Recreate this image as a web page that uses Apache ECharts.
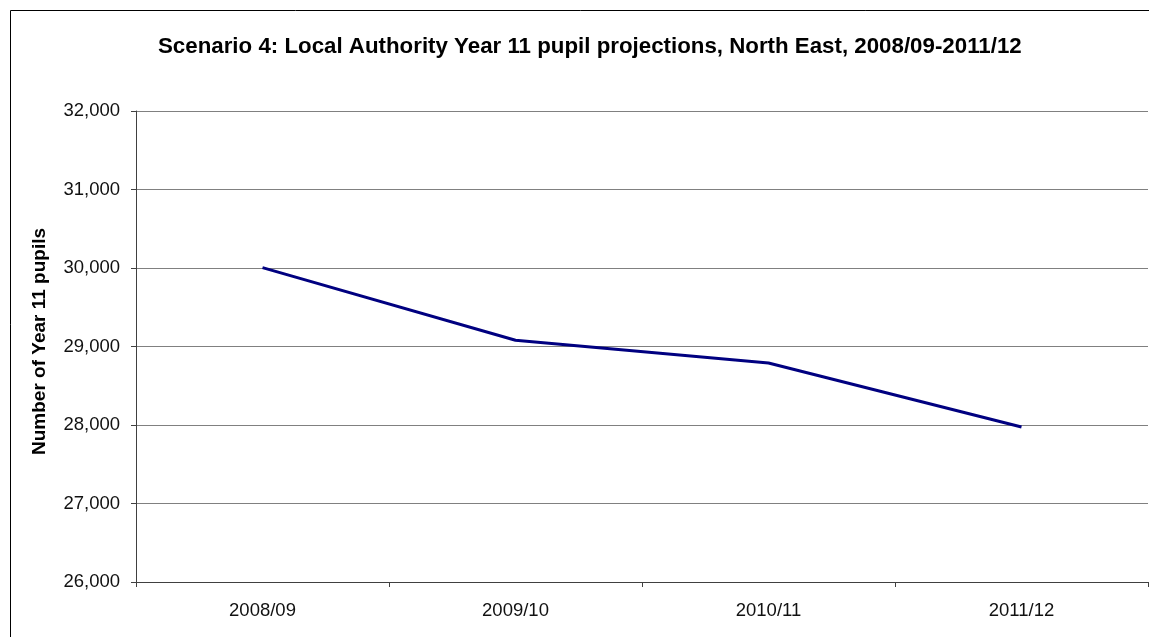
<!DOCTYPE html>
<html>
<head>
<meta charset="utf-8">
<script src="https://cdn.jsdelivr.net/npm/echarts@6/dist/echarts.min.js"></script>
<style>
html,body{margin:0;padding:0;background:#fff;}
#chart{width:1149px;height:637px;}
</style>
</head>
<body>
<div id="chart"></div>
<script>
const categories = ['2008/09', '2009/10', '2010/11', '2011/12'];
const pupils = [30005, 29080, 28790, 27975];
const yTicks = [26000, 27000, 28000, 29000, 30000, 31000, 32000];
const titleText = 'Scenario 4: Local Authority Year 11 pupil projections, North East, 2008/09-2011/12';
const yAxisName = 'Number of Year 11 pupils';

const chart = echarts.init(document.getElementById('chart'), null, {renderer: 'canvas'});
const font = 'Liberation Sans, Arial, sans-serif';
chart.setOption({
  animation: false,
  backgroundColor: '#fff',
  graphic: [{
    type: 'rect',
    shape: {x: 10.5, y: 10.5, width: 1200, height: 700},
    style: {fill: 'none', stroke: '#000', lineWidth: 1},
    z: -1
  }],
  title: {
    text: titleText,
    left: 153,
    top: 31,
    textStyle: {fontFamily: font, fontSize: 22.3, fontWeight: 'bold', color: '#000'}
  },
  grid: {left: 136, right: 1, top: 111, bottom: 55},
  xAxis: {
    type: 'category',
    data: categories,
    boundaryGap: true,
    axisLine: {lineStyle: {color: '#404040', width: 1}},
    axisTick: {show: true, alignWithLabel: false, interval: 0, length: 5, lineStyle: {color: '#404040'}},
    axisLabel: {fontFamily: font, fontSize: 18.5, color: '#111', margin: 19}
  },
  yAxis: {
    type: 'value',
    min: yTicks[0],
    max: yTicks[yTicks.length - 1],
    interval: 1000,
    name: yAxisName,
    nameLocation: 'middle',
    nameGap: 87,
    nameRotate: 90,
    nameTextStyle: {fontFamily: font, fontSize: 19, fontWeight: 'bold', color: '#000', padding: [0, 0, 0, 10]},
    axisLine: {show: true, lineStyle: {color: '#404040', width: 1}},
    axisTick: {show: true, length: 5, lineStyle: {color: '#404040'}},
    axisLabel: {
      fontFamily: font, fontSize: 18.5, color: '#111', margin: 16,
      formatter: v => v.toLocaleString('en-US')
    },
    splitLine: {show: true, lineStyle: {color: '#808080', width: 1}}
  },
  series: [{
    type: 'line',
    data: pupils,
    showSymbol: false,
    symbol: 'none',
    lineStyle: {color: '#000080', width: 3},
    itemStyle: {color: '#000080'}
  }]
});
</script>
</body>
</html>
